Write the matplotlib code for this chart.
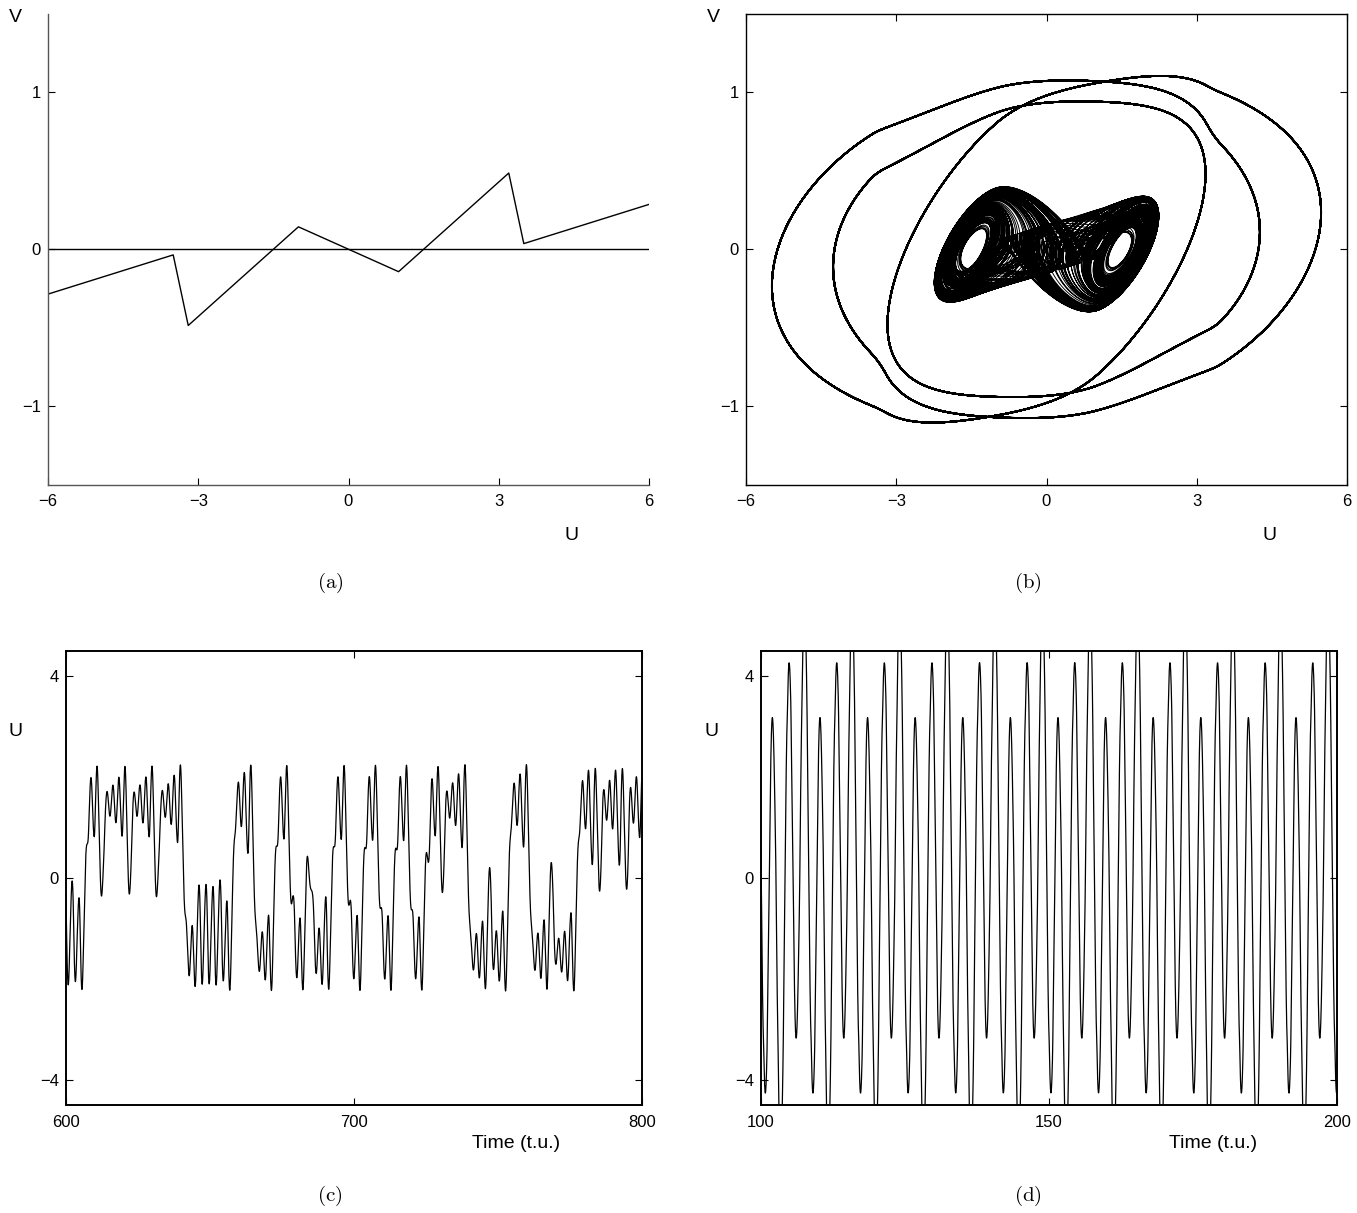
"""Double-scroll circuit with a five-segment characteristic: nullcline,
phase portrait of the two coexisting attractors, and U(t) on each."""

import bisect

import matplotlib
matplotlib.use("Agg")
import matplotlib.pyplot as plt
import numpy as np

# panel (a): piecewise-linear characteristic V(U), breakpoints
U_BP = [-6.0, -3.5, -3.2, -1.0, 1.0, 3.2, 3.5, 6.0]
V_BP = [-0.286, -0.036, -0.486, 0.143, -0.143, 0.486, 0.036, 0.286]

# circuit parameters (alpha, beta) and RK4 step.  With the characteristic
# above the outer cycle only settles for a slightly larger alpha.
PAR_SCROLL = (9.0, 100.0 / 7.0)
PAR_CYCLE = (10.0, 100.0 / 7.0)
DT = 0.01

# starting states: inside the double scroll, and outside it (outer cycle)
X0_SCROLL = (0.1, 0.0, 0.0)
X0_CYCLE = (6.0, 0.2, -9.0)

# shown windows / ticks
T_PHASE = (100.0, 800.0)
T_C = (600.0, 800.0)
T_D = (100.0, 200.0)
U_TICKS = [-6, -3, 0, 3, 6]
V_TICKS = [-1, 0, 1]
C_TICKS = [600, 700, 800]
D_TICKS = [100, 150, 200]
UT_TICKS = [-4, 0, 4]

SLOPES = [(V_BP[i + 1] - V_BP[i]) / (U_BP[i + 1] - U_BP[i]) for i in range(len(U_BP) - 1)]


def h(u):
    """V(U) of panel (a), extended linearly past the end breakpoints."""
    i = bisect.bisect_right(U_BP, u) - 1
    i = min(max(i, 0), len(SLOPES) - 1)
    return V_BP[i] + SLOPES[i] * (u - U_BP[i])


def integrate(state, t_end, par):
    """Classic RK4; returns t, U, V."""
    al, be = par

    def rhs(x, y, z):
        return al * (y - h(x)), x - y + z, -be * y

    n = int(round(t_end / DT))
    u = np.full(n + 1, np.nan)
    v = np.full(n + 1, np.nan)
    x, y, z = state
    u[0], v[0] = x, y
    for k in range(n):
        a1, b1, c1 = rhs(x, y, z)
        a2, b2, c2 = rhs(x + 0.5 * DT * a1, y + 0.5 * DT * b1, z + 0.5 * DT * c1)
        a3, b3, c3 = rhs(x + 0.5 * DT * a2, y + 0.5 * DT * b2, z + 0.5 * DT * c2)
        a4, b4, c4 = rhs(x + DT * a3, y + DT * b3, z + DT * c3)
        x += DT / 6.0 * (a1 + 2 * a2 + 2 * a3 + a4)
        y += DT / 6.0 * (b1 + 2 * b2 + 2 * b3 + b4)
        z += DT / 6.0 * (c1 + 2 * c2 + 2 * c3 + c4)
        if abs(x) > 1e3:
            break
        u[k + 1], v[k + 1] = x, y
    t = np.arange(n + 1) * DT
    return t, u, v


t_s, u_s, v_s = integrate(X0_SCROLL, T_C[1], PAR_SCROLL)
t_l, u_l, v_l = integrate(X0_CYCLE, T_D[1], PAR_CYCLE)

# ---------------------------------------------------------------- layout
W, H = 1357, 1213
plt.rcParams["font.family"] = ["Liberation Sans", "DejaVu Sans"]
plt.rcParams["mathtext.fontset"] = "cm"
fig = plt.figure(figsize=(W / 100, H / 100), dpi=100)


def box(l, t, r, b):
    return [l / W, 1 - b / H, (r - l) / W, (b - t) / H]


def px_text(x, y, s, size=14, **kw):
    fig.text(x / W, 1 - y / H, s, ha="center", va="center", fontsize=size, **kw)


def style(ax, full=True, lw=1.0):
    for sp in ax.spines.values():
        sp.set_linewidth(lw)
        sp.set_color("black")
    if not full:
        ax.spines["top"].set_visible(False)
        ax.spines["right"].set_visible(False)
        for sp in ("left", "bottom"):
            ax.spines[sp].set_color("#555555")
    ax.tick_params(direction="in", length=5, width=0.8, labelsize=12,
                   top=full, right=full, pad=7)
    ax.tick_params(axis="y", pad=5)


ax_a = fig.add_axes(box(48, 14, 649, 484.5))
ax_b = fig.add_axes(box(746, 14, 1347, 484.5))
ax_c = fig.add_axes(box(65.7, 650.7, 641.7, 1105))
ax_d = fig.add_axes(box(760.7, 650.7, 1336.7, 1105))

# (a) characteristic and V = 0
ax_a.plot(U_BP, V_BP, color="black", lw=1.0)
ax_a.plot([U_BP[0], U_BP[-1]], [0, 0], color="black", lw=1.0)

# (b) both attractors in the (U, V) plane
m = (t_s >= T_PHASE[0]) & (t_s <= T_PHASE[1])
ax_b.plot(u_s[m], v_s[m], color="black", lw=0.7)
m = t_l >= T_D[0]
ax_b.plot(u_l[m], v_l[m], color="black", lw=1.3)

for ax in (ax_a, ax_b):
    ax.set_xlim(-6, 6)
    ax.set_ylim(-1.5, 1.5)
    ax.set_xticks(U_TICKS)
    ax.set_yticks(V_TICKS)

# (c) chaotic U(t), (d) periodic U(t)
m = (t_s >= T_C[0]) & (t_s <= T_C[1])
ax_c.plot(t_s[m], u_s[m], color="black", lw=0.9)
ax_c.set_xlim(*T_C)
ax_c.set_xticks(C_TICKS)

m = (t_l >= T_D[0]) & (t_l <= T_D[1])
ax_d.plot(t_l[m], u_l[m], color="black", lw=0.9)
ax_d.set_xlim(*T_D)
ax_d.set_xticks(D_TICKS)

for ax in (ax_c, ax_d):
    ax.set_ylim(-4.5, 4.5)
    ax.set_yticks(UT_TICKS)

style(ax_a, full=False)
style(ax_b)
style(ax_c, lw=1.4)
style(ax_d, lw=1.4)

# axis names placed like the original (outside the usual label slots)
px_text(15, 17, "V")
px_text(713, 17, "V")
px_text(571, 535, "U")
px_text(1269, 535, "U")
px_text(15, 731, "U")
px_text(712, 731, "U")
px_text(516, 1143, "Time (t.u.)")
px_text(1213, 1143, "Time (t.u.)")

for x, y, s in [(330, 583, "a"), (1028, 583, "b"), (330, 1196, "c"), (1028, 1196, "d")]:
    px_text(x, y, r"$\mathrm{(" + s + ")}$", size=15)

fig.savefig("out.png", dpi=100)
